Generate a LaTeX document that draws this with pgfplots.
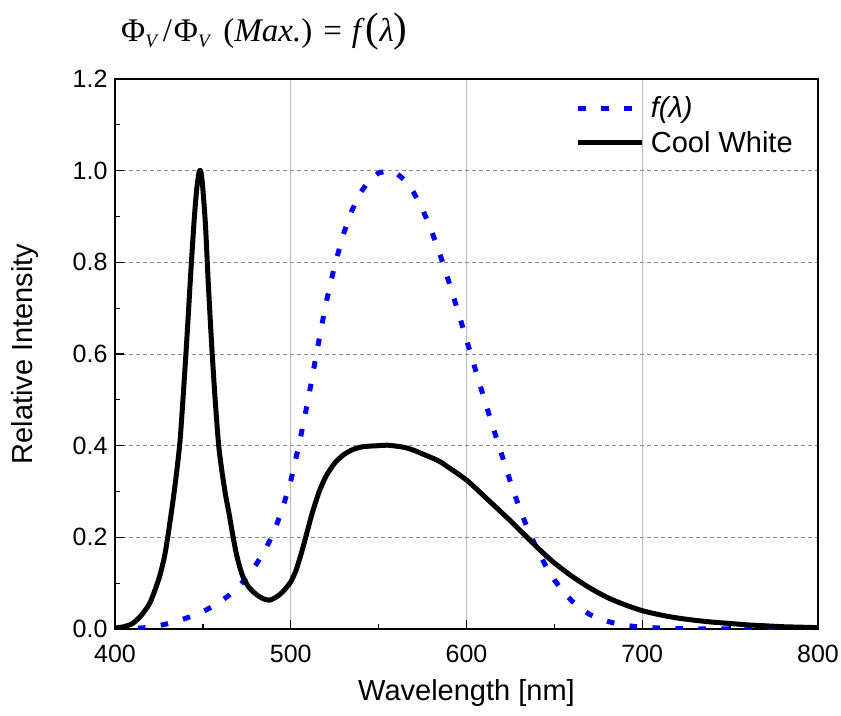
\documentclass[border=0pt]{standalone}
\usepackage{fontspec}
\setmainfont{Liberation Sans}
\newfontfamily\tnr{Liberation Serif}
\usepackage{pgfplots}
\pgfplotsset{compat=1.18}
\definecolor{fblue}{RGB}{0,0,255}
\begin{document}
\begin{tikzpicture}
\begin{axis}[
  scale only axis, width=703pt, height=550pt,
  xmin=400, xmax=800, ymin=0, ymax=1.2,
  xtick={400,500,600,700,800},
  ytick={0,0.2,0.4,0.6,0.8,1.0,1.2},
  minor x tick num=1, minor y tick num=1,
  tick align=inside, tick pos=left,
  major tick length=9pt, minor tick length=5pt,
  every tick/.style={black, line width=1.3pt},
  axis line style={black, line width=1.5pt},
  xmajorgrids, ymajorgrids,
  x grid style={gray!55, line width=1.4pt},
  y grid style={gray!90, line width=0.9pt, dash pattern=on 4pt off 3pt},
  /pgf/number format/assume math mode=true,
  tick label style={font=\fontsize{25}{25}\selectfont},
  xticklabel style={yshift=-13pt},
  yticklabel style={xshift=-4pt, /pgf/number format/.cd, fixed, fixed zerofill, precision=1},
  every axis x label/.style={at={(axis description cs:0.5,0)}, anchor=base, yshift=-71pt, font=\fontsize{29}{29}\selectfont},
  every axis y label/.style={at={(axis description cs:-0.128,0.5)}, rotate=90, anchor=center, font=\fontsize{29}{29}\selectfont},
  xlabel={Wavelength [nm]},
  ylabel={Relative Intensity},
  legend style={at={(rel axis cs:0.651,0.975)}, anchor=north west, draw=none, fill=none,
    font=\fontsize{29}{31}\selectfont, row sep=8pt, nodes={inner xsep=6pt}},
  legend cell align=left,
  legend image code/.code={\draw[#1] (0pt,0pt) -- (64pt,0pt);},
]
\addplot[fblue, line width=5pt, dash pattern=on 7.5pt off 15.5pt] coordinates {
(400,0.0004) (405,0.0006) (410,0.0012) (415,0.0022) (420,0.0040) (425,0.0073)
(430,0.0116) (435,0.0168) (440,0.0230) (445,0.0298) (450,0.0380) (455,0.0480)
(460,0.0600) (465,0.0739) (470,0.0910) (475,0.1126) (480,0.1390) (485,0.1693)
(490,0.2080) (495,0.2586) (500,0.3230) (505,0.4073) (510,0.5030) (515,0.6082)
(520,0.7100) (525,0.7932) (530,0.8620) (535,0.9149) (540,0.9540) (545,0.9803)
(550,0.9950) (555,1.0000) (560,0.9950) (565,0.9786) (570,0.9520) (575,0.9154)
(580,0.8700) (585,0.8163) (590,0.7570) (595,0.6949) (600,0.6310) (605,0.5668)
(610,0.5030) (615,0.4412) (620,0.3810) (625,0.3210) (630,0.2650) (635,0.2170)
(640,0.1750) (645,0.1382) (650,0.1070) (655,0.0816) (660,0.0610) (665,0.0446)
(670,0.0320) (675,0.0232) (680,0.0170) (685,0.0119) (690,0.0082) (695,0.0057)
(700,0.0041) (710,0.0021) (720,0.00105) (730,0.00052) (740,0.00025) (750,0.00012)
(760,0.00006) (770,0.00003) (780,0.000015)
};
\addlegendentry{\textit{f(λ)}}
\addplot[black, line width=5pt, line join=round, smooth, tension=0.4] coordinates {
(400,0.002) (405,0.005) (410,0.012) (415,0.030) (420,0.058) (425,0.110)
(428,0.155) (430,0.200) (433,0.280) (435,0.340) (437,0.410) (439,0.520)
(441,0.640) (443,0.770) (445,0.890) (446.5,0.960) (448,1.000) (449,0.995)
(450,0.960) (451.5,0.880) (453,0.760) (455,0.620) (457,0.500) (459,0.400)
(461,0.340) (463,0.290) (465,0.250) (467,0.205) (469,0.165) (471,0.135)
(473,0.112) (476,0.092) (479,0.080) (482,0.071) (485,0.065) (488,0.063)
(491,0.068) (494,0.076) (497,0.088) (500,0.103) (503,0.128) (506,0.165)
(508.5,0.200) (512,0.250) (516,0.298) (520,0.333) (525,0.362) (530,0.380)
(535,0.391) (540,0.397) (545,0.399) (550,0.400) (555,0.401) (560,0.399)
(565,0.396) (570,0.390) (575,0.382) (580,0.374) (585,0.365) (590,0.352)
(595,0.339) (600,0.325) (605,0.308) (610,0.290) (615,0.272) (620,0.254)
(625,0.236) (630,0.217) (635,0.198) (640,0.179) (645,0.161) (650,0.144)
(660,0.115) (670,0.090) (680,0.069) (690,0.053) (700,0.040) (710,0.031)
(720,0.024) (730,0.019) (740,0.015) (750,0.012) (760,0.009) (770,0.007)
(780,0.005) (790,0.004) (800,0.003)
};
\addlegendentry{Cool White}
\end{axis}
\node[anchor=west, inner sep=0pt] at ([xshift=6pt,yshift=47pt]current axis.north west)
 {\tnr\fontsize{33}{36}\selectfont Φ\raisebox{-6pt}{\fontsize{19}{19}\selectfont\textit{V}}\hspace{4pt}/\hspace{2pt}Φ\raisebox{-6pt}{\fontsize{19}{19}\selectfont\textit{V}}\hspace{12pt}(\textit{Max.})\hspace{11pt}=\hspace{10pt}\textit{f}\hspace{1pt}{\fontsize{41}{41}\selectfont(}\textit{λ}{\fontsize{41}{41}\selectfont)}};
\pgfresetboundingbox
\path[use as bounding box] ([shift={(-115pt,-86pt)}]current axis.south west) rectangle ([shift={(23pt,79pt)}]current axis.north east);
\end{tikzpicture}
\end{document}
